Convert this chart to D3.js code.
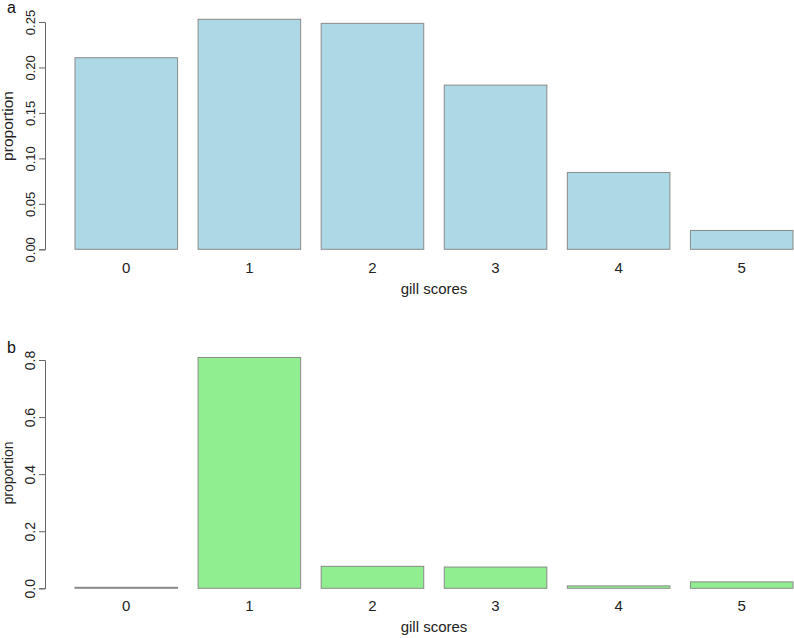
<!DOCTYPE html>
<html>
<head>
<meta charset="utf-8">
<script src="https://cdn.jsdelivr.net/npm/d3@7"></script>
<style>
  body { margin: 0; background: #fff; }
  svg { display: block; font-family: "Liberation Sans", Arial, sans-serif; }
</style>
</head>
<body>
<svg width="794" height="638"></svg>
<script>
// Data
const scores = ["0", "1", "2", "3", "4", "5"];
const propA = [0.2107, 0.2530, 0.2485, 0.1806, 0.0845, 0.0207];
const propB = [0.0035, 0.8090, 0.0770, 0.0745, 0.0085, 0.0225];
const ticksA = [0, 0.05, 0.10, 0.15, 0.20, 0.25];
const ticksB = [0, 0.2, 0.4, 0.6, 0.8];

const svg = d3.select("svg");

// Shared x scale: R barplot, bar width 1, space 0.2
const x = d3.scaleBand()
    .domain(scores)
    .range([75, 793])
    .paddingInner(0.2 / 1.2)
    .paddingOuter(0);

function panel(opts) {
    const y = d3.scaleLinear()
        .domain([0, opts.ticks[opts.ticks.length - 1]])
        .range([opts.y0, opts.y1]);

    const g = svg.append("g");

    // bars
    g.selectAll(".bar")
        .data(opts.values)
        .enter()
        .append("rect")
        .attr("class", "bar")
        .attr("x", (d, i) => x(scores[i]))
        .attr("width", x.bandwidth())
        .attr("y", d => y(d))
        .attr("height", d => y(0) - y(d))
        .attr("fill", opts.fill)
        .attr("stroke", "#8a8a8a")
        .attr("stroke-width", 1);

    // y axis, labels rotated like R's las=0
    const ax = g.append("g")
        .attr("transform", "translate(45,0)")
        .call(d3.axisLeft(y).tickValues(opts.ticks).tickSize(6).tickFormat(d3.format(opts.fmt)));
    ax.select(".domain").attr("stroke", "#666");
    ax.selectAll(".tick line").attr("stroke", "#666");
    ax.selectAll(".tick text")
        .attr("x", 0).attr("y", 0).attr("dy", null)
        .attr("transform", "translate(-10,0) rotate(-90)")
        .attr("text-anchor", "middle")
        .attr("fill", "#222")
        .style("font-size", opts.yFont + "px");

    // x labels
    g.selectAll(".xlab")
        .data(scores)
        .enter()
        .append("text")
        .attr("class", "xlab")
        .attr("x", d => x(d) + x.bandwidth() / 2)
        .attr("y", opts.xLabY)
        .attr("text-anchor", "middle")
        .attr("fill", "#222")
        .style("font-size", "15px")
        .text(d => d);

    g.append("text")
        .attr("x", 434)
        .attr("y", opts.xTitleY)
        .attr("text-anchor", "middle")
        .attr("fill", "#222")
        .style("font-size", "15px")
        .text("gill scores");

    g.append("text")
        .attr("transform", `translate(13,${opts.yTitleY}) rotate(-90)`)
        .attr("text-anchor", "middle")
        .attr("fill", "#222")
        .style("font-size", opts.yTitleFont + "px")
        .text("proportion");

    g.append("text")
        .attr("x", 7)
        .attr("y", opts.tagY)
        .attr("fill", "#111")
        .style("font-size", "16px")
        .text(opts.tag);
}

panel({ values: propA, ticks: ticksA, fmt: ".2f", fill: "#ADD8E6",
        y0: 249.3, y1: 22, xLabY: 273, xTitleY: 294, yTitleY: 126,
        yFont: 13, yTitleFont: 15.5, tag: "a", tagY: 13 });

panel({ values: propB, ticks: ticksB, fmt: ".1f", fill: "#90EE90",
        y0: 588.3, y1: 360, xLabY: 611, xTitleY: 632, yTitleY: 473,
        yFont: 14, yTitleFont: 14, tag: "b", tagY: 353 });
</script>
</body>
</html>
